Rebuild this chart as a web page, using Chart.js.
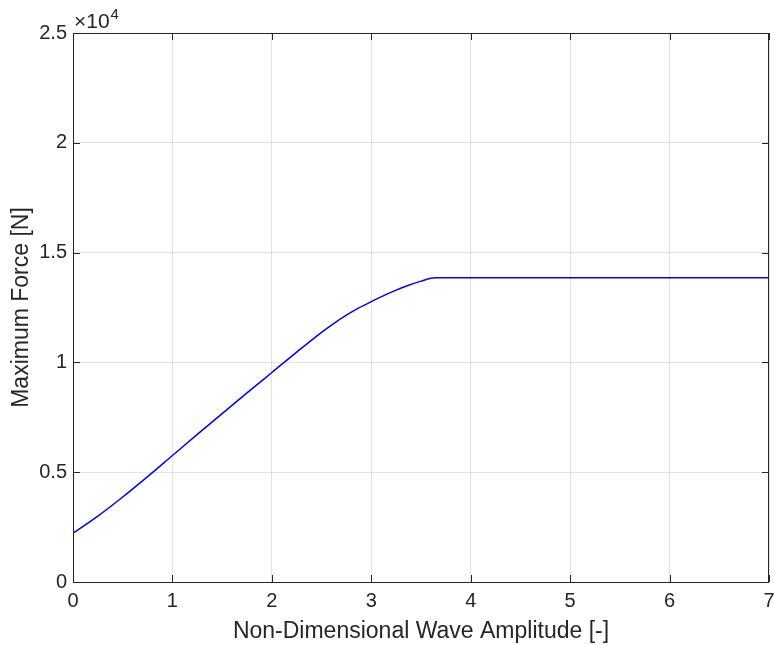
<!DOCTYPE html>
<html>
<head>
<meta charset="utf-8">
<script src="https://cdn.jsdelivr.net/npm/chart.js@4/dist/chart.umd.min.js"></script>
<style>
  html, body { margin: 0; padding: 0; background: #ffffff; }
  #wrap { width: 774px; height: 645px; }
</style>
</head>
<body>
<div id="wrap"><canvas id="myChart" width="774" height="645"></canvas></div>
<script>
var amplitude = [0, 0.25, 0.5, 0.75, 1, 1.25, 1.5, 1.75, 2, 2.25, 2.5, 2.625, 2.75, 2.875, 3, 3.125, 3.25, 3.375, 3.5, 3.6, 3.65, 4, 5, 6, 7];
var force = [2220, 3000, 3870, 4800, 5760, 6720, 7670, 8610, 9540, 10470, 11370, 11780, 12150, 12480, 12770, 13040, 13290, 13510, 13700, 13830, 13850, 13850, 13850, 13850, 13850];
var xTicks = [0, 1, 2, 3, 4, 5, 6, 7];
var yTicks = [0, 5000, 10000, 15000, 20000, 25000];
var yExponent = 4;

var axisColour = '#262626';
var fontFamily = '"Liberation Sans", Arial, Helvetica, sans-serif';

var points = amplitude.map(function(a, i){
    return {x: a, y: force[i]};
});

// MATLAB style frame: full box with ticks pointing inwards on every side,
// plus the x10^n multiplier above the y axis
var boxPlugin = {
    id: 'matlabBox',
    afterDraw: function(chart){
        var ctx = chart.ctx;
        var area = chart.chartArea;
        var xs = chart.scales.x;
        var ys = chart.scales.y;
        var len = 7;
        ctx.save();
        ctx.strokeStyle = axisColour;
        ctx.lineWidth = 1;
        ctx.beginPath();
        xTicks.forEach(function(t){
            var px = Math.round(xs.getPixelForValue(t)) + 0.5;
            ctx.moveTo(px, area.bottom);
            ctx.lineTo(px, area.bottom - len);
            ctx.moveTo(px, area.top);
            ctx.lineTo(px, area.top + len);
        });
        yTicks.forEach(function(t){
            var py = Math.round(ys.getPixelForValue(t)) + 0.5;
            ctx.moveTo(area.left, py);
            ctx.lineTo(area.left + len, py);
            ctx.moveTo(area.right, py);
            ctx.lineTo(area.right - len, py);
        });
        ctx.stroke();
        ctx.strokeRect(Math.round(area.left) + 0.5, Math.round(area.top) + 0.5,
            Math.round(area.right - area.left) - 1, Math.round(area.bottom - area.top));

        ctx.fillStyle = axisColour;
        ctx.textBaseline = 'alphabetic';
        ctx.textAlign = 'left';
        ctx.font = '21px ' + fontFamily;
        ctx.fillText('\u00d710', area.left + 1, 28);
        var w = ctx.measureText('\u00d710').width;
        ctx.font = '15px ' + fontFamily;
        ctx.fillText(String(yExponent), area.left + 2 + w, 19);
        ctx.restore();
    }
};

var ctx = document.getElementById('myChart');
var myChart = new Chart(ctx, {
    type: 'line',
    data: {
        datasets: [{
            label: 'Maximum Force',
            data: points,
            borderColor: '#0000ff',
            borderWidth: 1.5,
            pointRadius: 0,
            fill: false,
            cubicInterpolationMode: 'monotone'
        }]
    },
    options: {
        responsive: false,
        animation: false,
        events: [],
        layout: {
            padding: {left: 0, top: 33, right: 5, bottom: 0}
        },
        plugins: {
            legend: {display: false},
            tooltip: {enabled: false}
        },
        scales: {
            x: {
                type: 'linear',
                min: 0,
                max: 7,
                afterFit: function(scale){
                    scale.height = 63;
                    scale.paddingLeft = 0;
                    scale.paddingRight = 0;
                },
                afterBuildTicks: function(scale){
                    scale.ticks = xTicks.map(function(v){ return {value: v}; });
                },
                grid: {color: 'rgba(38,38,38,0.13)', drawTicks: false},
                border: {display: false},
                ticks: {
                    color: axisColour,
                    padding: 7,
                    maxRotation: 0,
                    font: {family: fontFamily, size: 20}
                },
                title: {
                    display: true,
                    text: 'Non-Dimensional Wave Amplitude [-]',
                    color: axisColour,
                    font: {family: fontFamily, size: 23},
                    padding: {top: 0, bottom: 0}
                }
            },
            y: {
                type: 'linear',
                min: 0,
                max: 25000,
                afterFit: function(scale){
                    scale.width = 73;
                    scale.paddingTop = 0;
                    scale.paddingBottom = 0;
                },
                afterBuildTicks: function(scale){
                    scale.ticks = yTicks.map(function(v){ return {value: v}; });
                },
                grid: {color: 'rgba(38,38,38,0.13)', drawTicks: false},
                border: {display: false},
                ticks: {
                    color: axisColour,
                    padding: 6,
                    font: {family: fontFamily, size: 20},
                    callback: function(v){ return String(v / Math.pow(10, yExponent)); }
                },
                title: {
                    display: true,
                    text: 'Maximum Force [N]',
                    color: axisColour,
                    font: {family: fontFamily, size: 23},
                    padding: {top: 8, bottom: 0}
                }
            }
        }
    },
    plugins: [boxPlugin]
});
</script>
</body>
</html>
